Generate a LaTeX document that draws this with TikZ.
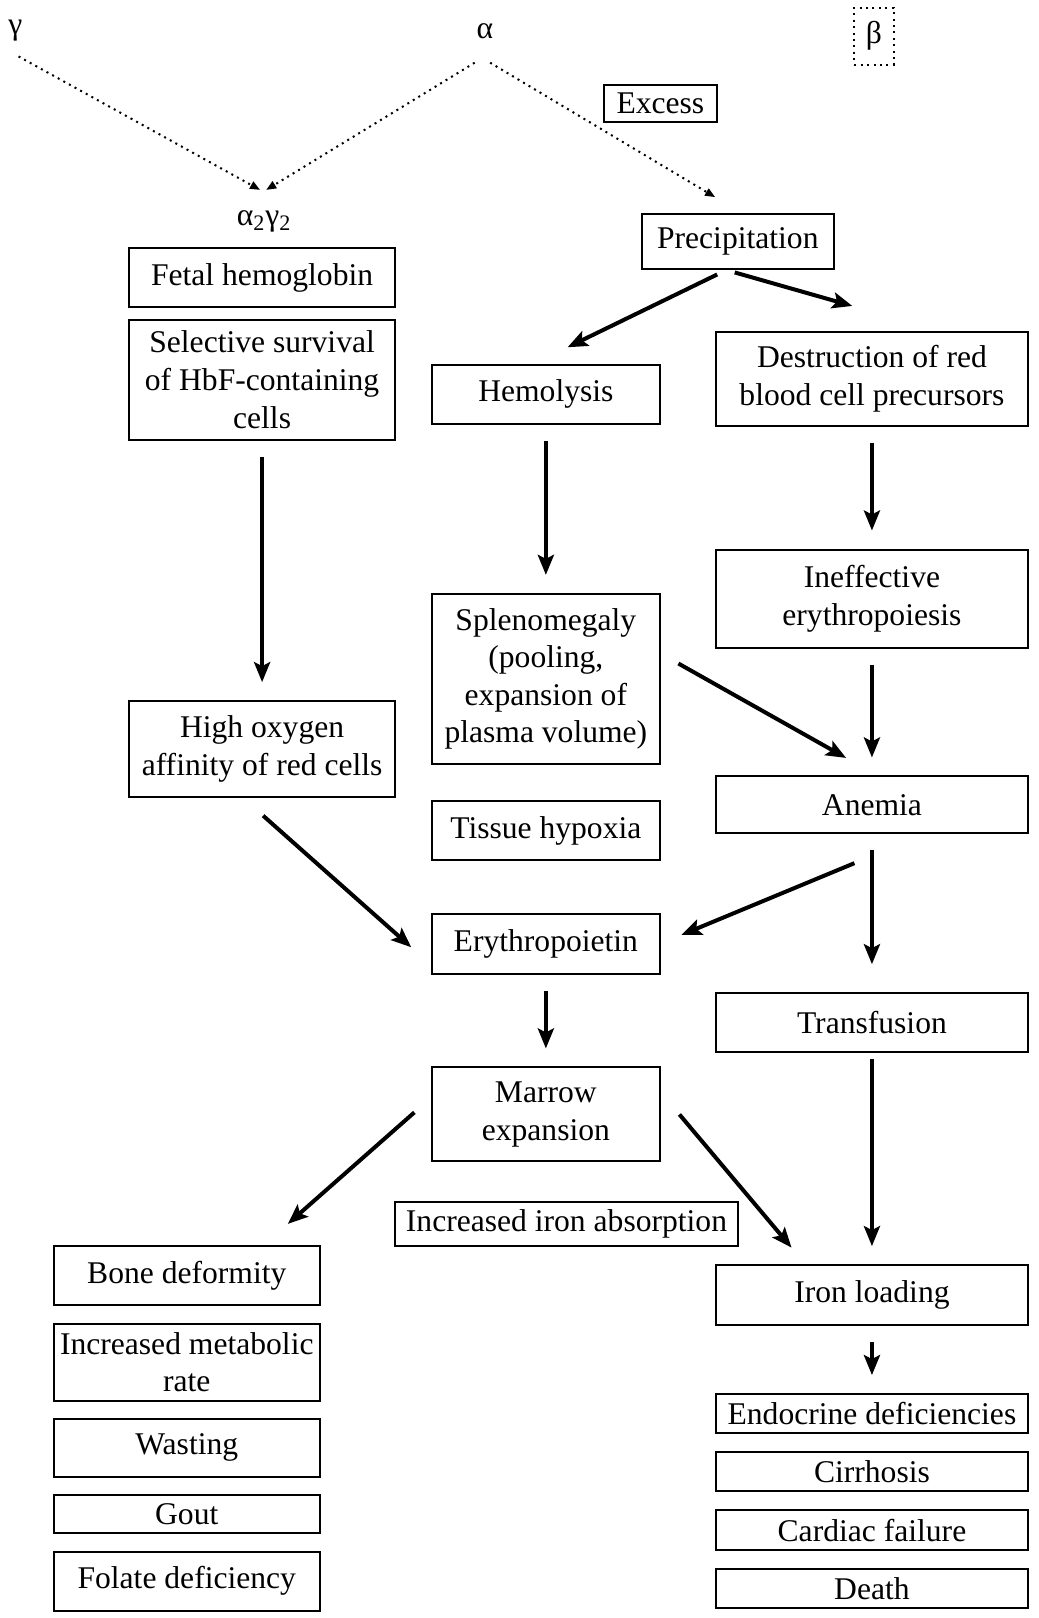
\documentclass[tikz,border=0pt]{standalone}
\usepackage{fontspec}
\setmainfont{Liberation Serif}
\usetikzlibrary{arrows.meta,positioning}

\begin{document}
\begin{tikzpicture}[
    x=0.516pt, y=-0.516pt,
    font=\fontsize{15.8}{18.8}\selectfont,
    box/.style = {draw,line width=1pt,align=center,inner sep=2pt},
    narrow/.style = {box,minimum width=133.1pt},
    mid/.style = {box,minimum width=114pt},
    wide/.style = {box,minimum width=155.8pt},
    arr/.style = {-{Stealth[length=10pt,width=8pt,inset=2pt]},line width=2pt},
    varr/.style = {arr,shorten <=8pt,shorten >=9pt},
    dots/.style = {-{Triangle[length=5pt,width=4pt]},line width=1pt,dash pattern=on 1pt off 2.2pt}
    ]
    \useasboundingbox (0,0) rectangle (1006,1568);
    % Chains
    \node[inner sep=0] (gamma) at (15,30) {γ};
    \node[inner sep=0] (alpha) at (470,30) {α};
    \node[draw,line width=1pt,dash pattern=on 1pt off 2.2pt,inner sep=0,
      minimum width=19.6pt,minimum height=28.4pt] (beta) at (847,35) {β};
    \node[box,minimum width=56.2pt,minimum height=18.6pt] (excess) at (640,100) {Excess};
    \node[inner sep=0] (hbf) at (256,215) {α\textsubscript{2}γ\textsubscript{2}};
    \coordinate (join) at (255,184);
    % Left column
    \node[narrow,minimum height=29.9pt] (fetal) at (254,269) {Fetal hemoglobin};
    \node[narrow,minimum height=59.9pt,below=5.2pt of fetal] (select)
      {Selective survival\\of HbF-containing\\cells};
    \node[narrow,minimum height=48pt] (hioxy) at (254,726) {High oxygen\\affinity of red cells};
    % Middle column
    \node[box,minimum width=96pt,minimum height=27.9pt] (prec) at (715,234) {Precipitation};
    \node[mid,minimum height=29.4pt] (hemo) at (529,382) {Hemolysis};
    \node[mid,minimum height=85.1pt] (spleno) at (529,658)
      {Splenomegaly\\(pooling,\\expansion of\\plasma volume)};
    \node[mid,minimum height=29.4pt] (tissue) at (529,805) {Tissue hypoxia};
    \node[mid,minimum height=29.9pt] (ery) at (529,915) {Erythropoietin};
    \node[mid,minimum height=47pt] (marrow) at (529,1080) {Marrow\\expansion};
    \node[box,minimum width=171.3pt,minimum height=22.2pt] (ironabs) at (549,1186)
      {Increased iron absorption};
    % Right column
    \node[wide,minimum height=47pt] (destr) at (845,367) {Destruction of red\\blood cell precursors};
    \node[wide,minimum height=49pt] (ineff) at (845,580) {Ineffective\\erythropoiesis};
    \node[wide,minimum height=28.4pt] (anemia) at (845,780) {Anemia};
    \node[wide,minimum height=29.4pt] (transf) at (845,991) {Transfusion};
    \node[wide,minimum height=29.9pt] (ironld) at (845,1255) {Iron loading};
    % Outcomes
    \node[narrow,minimum height=29.9pt] (bone) at (181,1236) {Bone deformity};
    \node[narrow,minimum height=38.6pt,below=8.2pt of bone] (metab) {Increased metabolic\\rate};
    \node[narrow,minimum height=28.6pt,below=8.2pt of metab] (wasting) {Wasting};
    \node[narrow,minimum height=19.1pt,below=8.2pt of wasting] (gout) {Gout};
    \node[narrow,minimum height=29.6pt,below=8.2pt of gout] (folate) {Folate deficiency};
    \node[wide,minimum height=19.6pt] (endo) at (845,1370) {Endocrine deficiencies};
    \node[wide,minimum height=19.6pt,below=8.5pt of endo] (cirr) {Cirrhosis};
    \node[wide,minimum height=19.6pt,below=8.5pt of cirr] (card) {Cardiac failure};
    \node[wide,minimum height=19.6pt,below=8.5pt of card] (death) {Death};
    % Dotted arrows
    \draw[dots] ([shift={(3,14)}]gamma.south) -- ([shift={(-3,0)}]join);
    \draw[dots] ([shift={(-10,23)}]alpha.south) -- ([shift={(3,0)}]join);
    \draw[dots] ([shift={(5,23)}]alpha.south) -- ([shift={(-22,-15)}]prec.north);
    % Straight arrows
    \foreach \a/\b in {select/hioxy,hemo/spleno,destr/ineff,ineff/anemia,ery/marrow,ironld/endo}
      \draw[varr] (\a) -- (\b);
    \draw[varr,shorten >=14pt] (anemia) -- (transf);
    \draw[varr,shorten <=3pt] (transf) -- (ironld);
    % Slanted arrows
    \draw[arr] ([shift={(-20,4)}]prec.south) -- ([shift={(21,-16)}]hemo.north);
    \draw[arr] ([shift={(-3,2)}]prec.south) -- ([shift={(-19,-24)}]destr.north);
    \draw[arr] ([shift={(17,-15)}]spleno.east) -- ([shift={(-25,-17)}]anemia.north);
    \draw[arr] ([shift={(1,17)}]hioxy.south) -- ([shift={(-19,3)}]ery.west);
    \draw[arr] ([shift={(-17,28)}]anemia.south) -- ([shift={(20,-9)}]ery.east);
    \draw[arr] ([shift={(-16,-2)}]marrow.west) -- ([shift={(-32,-20)}]bone.north east);
    \draw[arr] ([shift={(18,0)}]marrow.east) -- ([shift={(74,-16)}]ironld.north west);
  \end{tikzpicture}
\end{document}
